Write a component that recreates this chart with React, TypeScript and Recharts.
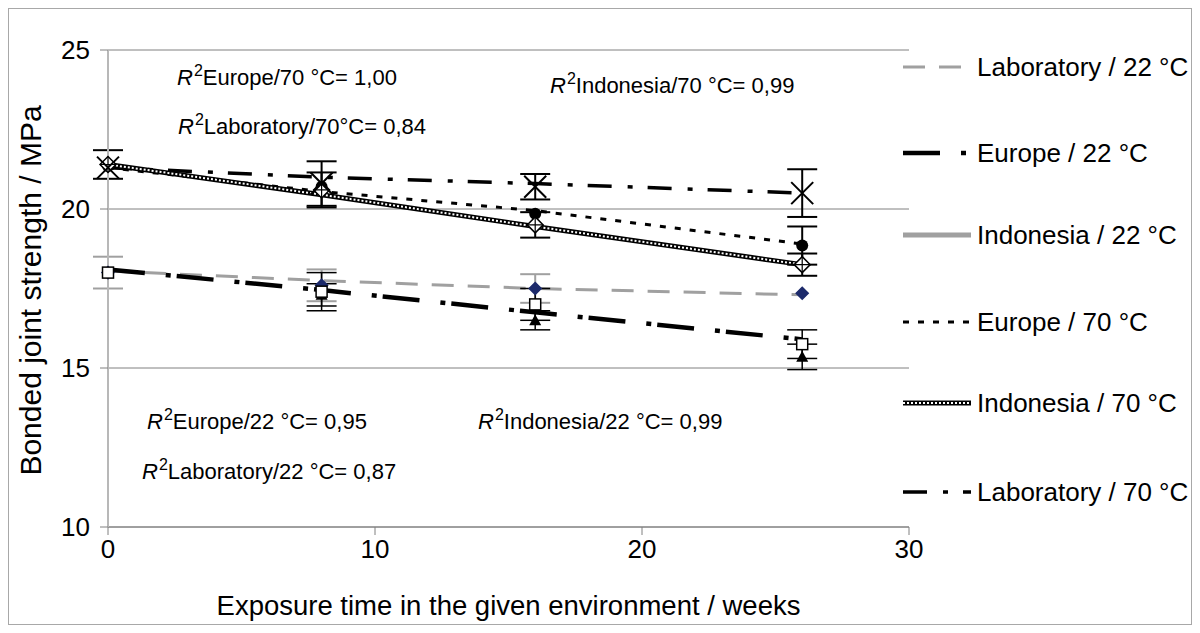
import React from "react";
import { ComposedChart, Line, Scatter, ErrorBar, XAxis, YAxis, CartesianGrid, Label } from "recharts";

const weeks = [0, 8, 16, 26];

const lab22 = [18.0, 17.6, 17.5, 17.35];
const lab22Err = [0.5, 0.5, 0.45, 0];
const eu22 = [18.0, 17.3, 16.5, 15.35];
const eu22Err = [0, 0.35, 0.3, 0.4];
const indo22 = [18.0, 17.4, 17.0, 15.75];
const indo22Err = [0, 0.6, 0.5, 0.45];
const eu70 = [21.35, 20.7, 19.85, 18.85];
const eu70Err = [0, 0, 0, 0.6];
const indo70 = [21.4, 20.6, 19.5, 18.25];
const indo70Err = [0.45, 0.55, 0.4, 0.35];
const lab70 = [21.3, 20.8, 20.7, 20.5];
const lab70Err = [0, 0.7, 0.4, 0.75];

// Fitted trend lines as drawn
const lab22Trend = [18.05, 17.75, 17.5, 17.3];
const eu22Trend = [18.1, 17.45, 16.75, 15.9];
const eu70Trend = [21.3, 20.55, 19.95, 18.9];
const indo70Trend = [21.4, 20.45, 19.45, 18.25];
const lab70Trend = [21.3, 21.0, 20.8, 20.5];

const xTicks = [0, 10, 20, 30];
const yTicks = [10, 15, 20, 25];

const pts = (ys: number[], errs?: number[]) =>
  weeks.map((x, i) => ({ x, y: ys[i], err: errs ? errs[i] : 0 }));

const FONT = "'Liberation Sans', Arial, sans-serif";

const Diamond = (fill: string, stroke: string, h: number, cross = false) => (p: any) => {
  const { cx, cy } = p;
  return (
    <g>
      <path d={`M${cx},${cy - h} L${cx + h},${cy} L${cx},${cy + h} L${cx - h},${cy} Z`} fill={fill} stroke={stroke} strokeWidth={1.5} />
      {cross && (
        <path d={`M${cx},${cy - h} L${cx},${cy + h} M${cx - h},${cy} L${cx + h},${cy}`} stroke={stroke} strokeWidth={1.2} />
      )}
    </g>
  );
};
const Triangle = (p: any) => {
  const { cx, cy } = p;
  return <path d={`M${cx},${cy - 6} L${cx + 6},${cy + 5} L${cx - 6},${cy + 5} Z`} fill="#000" />;
};
const Square = (p: any) => {
  const { cx, cy } = p;
  return <rect x={cx - 5.5} y={cy - 5.5} width={11} height={11} fill="#fff" stroke="#000" strokeWidth={1.5} />;
};
const Circle = (p: any) => <circle cx={p.cx} cy={p.cy} r={6} fill="#000" />;
const Cross = (p: any) => {
  const { cx, cy } = p;
  return (
    <path d={`M${cx - 11},${cy - 11} L${cx + 11},${cy + 11} M${cx - 11},${cy + 11} L${cx + 11},${cy - 11}`} stroke="#000" strokeWidth={2} />
  );
};

const YTitle = (props: any) => {
  const vb = props.viewBox || { x: 0, y: 42, width: 100, height: 477 };
  const cx = 22;
  const cy = vb.y + vb.height / 2 + 2;
  return (
    <text x={cx} y={cy} transform={`rotate(-90 ${cx} ${cy})`} textAnchor="middle" dominantBaseline="central" fontSize={30} fontFamily={FONT} fill="#000">
      Bonded joint strength / MPa
    </text>
  );
};

const legendItems = [
  { label: "Laboratory / 22 °C", color: "#a0a0a0", width: 3, dash: "22 14" },
  { label: "Europe / 22 °C", color: "#000", width: 4.5, dash: "37 21 5 6" },
  { label: "Indonesia / 22 °C", color: "#a0a0a0", width: 5, dash: undefined },
  { label: "Europe / 70 °C", color: "#000", width: 3, dash: "6 9" },
  { label: "Indonesia / 70 °C", color: "#000", width: 5, dash: undefined, pattern: true },
  { label: "Laboratory / 70 °C", color: "#000", width: 3.5, dash: "24 16 5 15" },
];
const legendY = [59, 145, 227, 314, 395, 484];

const notes = [
  { t: "Europe/70 °C= 1,00", x: 169, y: 70 },
  { t: "Laboratory/70°C= 0,84", x: 170, y: 119 },
  { t: "Indonesia/70 °C= 0,99", x: 542, y: 78 },
  { t: "Europe/22 °C= 0,95", x: 139, y: 414 },
  { t: "Laboratory/22 °C= 0,87", x: 134, y: 464 },
  { t: "Indonesia/22 °C= 0,99", x: 470, y: 414 },
];

export default function App() {
  return (
    <div style={{ position: "relative", width: 1184, height: 617, fontFamily: FONT, color: "#000" }}>
      <ComposedChart width={1184} height={617} margin={{ top: 42, right: 283, bottom: 0, left: 0 }}>
        <CartesianGrid horizontal vertical={false} stroke="#808080" strokeWidth={1} />
        <XAxis
          type="number"
          dataKey="x"
          domain={[0, 30]}
          ticks={xTicks}
          height={98}
          tickSize={8}
          tickMargin={5}
          axisLine={{ stroke: "#808080" }}
          tickLine={{ stroke: "#808080" }}
          tick={{ fill: "#000", fontSize: 26, fontFamily: FONT }}
          label={{ value: "Exposure time in the given environment / weeks", position: "insideBottom", offset: 10, style: { fill: "#000", fontSize: 27.5, fontFamily: FONT } }}
        />
        <YAxis
          type="number"
          domain={[10, 25]}
          ticks={yTicks}
          width={100}
          tickSize={8}
          tickMargin={10}
          axisLine={{ stroke: "#b8b8b8", strokeWidth: 2 }}
          tickLine={{ stroke: "#808080" }}
          tick={{ fill: "#000", fontSize: 26, fontFamily: FONT }}
        >
          <Label content={YTitle} />
        </YAxis>

        <Line data={pts(lab22Trend)} dataKey="y" type="linear" stroke="#a0a0a0" strokeWidth={3} strokeDasharray="22 14" dot={false} isAnimationActive={false} />
        <Line data={pts(eu22Trend)} dataKey="y" type="linear" stroke="#000" strokeWidth={4.5} strokeDasharray="37 21 5 6" dot={false} isAnimationActive={false} />
        <Line data={pts(eu70Trend)} dataKey="y" type="linear" stroke="#000" strokeWidth={3} strokeDasharray="6 9" dot={false} isAnimationActive={false} />
        <Line data={pts(lab70Trend)} dataKey="y" type="linear" stroke="#000" strokeWidth={3.5} strokeDasharray="24 16 5 15" dot={false} isAnimationActive={false} />
        <Line data={pts(indo70Trend)} dataKey="y" type="linear" stroke="#000" strokeWidth={5} dot={false} isAnimationActive={false} />
        <Line data={pts(indo70Trend)} dataKey="y" type="linear" stroke="#fff" strokeWidth={2} strokeDasharray="2 2" dot={false} isAnimationActive={false} />

        <Scatter data={pts(lab22, lab22Err)} dataKey="y" shape={Diamond("#1c2a6b", "#1c2a6b", 6)} isAnimationActive={false}>
          <ErrorBar dataKey="err" direction="y" width={15} stroke="#a0a0a0" strokeWidth={2} />
        </Scatter>
        <Scatter data={pts(eu22, eu22Err)} dataKey="y" shape={Triangle} isAnimationActive={false}>
          <ErrorBar dataKey="err" direction="y" width={15} stroke="#000" strokeWidth={1.5} />
        </Scatter>
        <Scatter data={pts(indo22, indo22Err)} dataKey="y" shape={Square} isAnimationActive={false}>
          <ErrorBar dataKey="err" direction="y" width={15} stroke="#000" strokeWidth={1.5} />
        </Scatter>
        <Scatter data={pts(eu70, eu70Err)} dataKey="y" shape={Circle} isAnimationActive={false}>
          <ErrorBar dataKey="err" direction="y" width={15} stroke="#000" strokeWidth={2} />
        </Scatter>
        <Scatter data={pts(indo70, indo70Err)} dataKey="y" shape={Diamond("#fff", "#000", 8, true)} isAnimationActive={false}>
          <ErrorBar dataKey="err" direction="y" width={15} stroke="#000" strokeWidth={2} />
        </Scatter>
        <Scatter data={pts(lab70, lab70Err)} dataKey="y" shape={Cross} isAnimationActive={false}>
          <ErrorBar dataKey="err" direction="y" width={15} stroke="#000" strokeWidth={2} />
        </Scatter>
      </ComposedChart>

      {notes.map((n) => (
        <div key={n.t} style={{ position: "absolute", left: n.x, top: n.y - 13, fontSize: 22, lineHeight: "26px", whiteSpace: "nowrap" }}>
          <span style={{ fontStyle: "italic" }}>R</span>
          <span style={{ fontSize: 16, position: "relative", top: -9, marginLeft: 1 }}>2</span>
          {n.t}
        </div>
      ))}

      {legendItems.map((it, i) => (
        <div key={it.label} style={{ position: "absolute", left: 893, top: legendY[i] - 15, height: 30, display: "flex", alignItems: "center", whiteSpace: "nowrap" }}>
          <svg width={72} height={14} style={{ marginRight: 4 }}>
            <line x1={2} y1={7} x2={70} y2={7} stroke={it.color} strokeWidth={it.width} strokeDasharray={it.dash} />
            {it.pattern && <line x1={2} y1={7} x2={70} y2={7} stroke="#fff" strokeWidth={2} strokeDasharray="2 2" />}
          </svg>
          <span style={{ fontSize: 26 }}>{it.label}</span>
        </div>
      ))}

      <div style={{ position: "absolute", left: 0, top: 0, width: 1184, height: 617, boxSizing: "border-box", border: "1px solid #a8a8a8", pointerEvents: "none" }} />
    </div>
  );
}
